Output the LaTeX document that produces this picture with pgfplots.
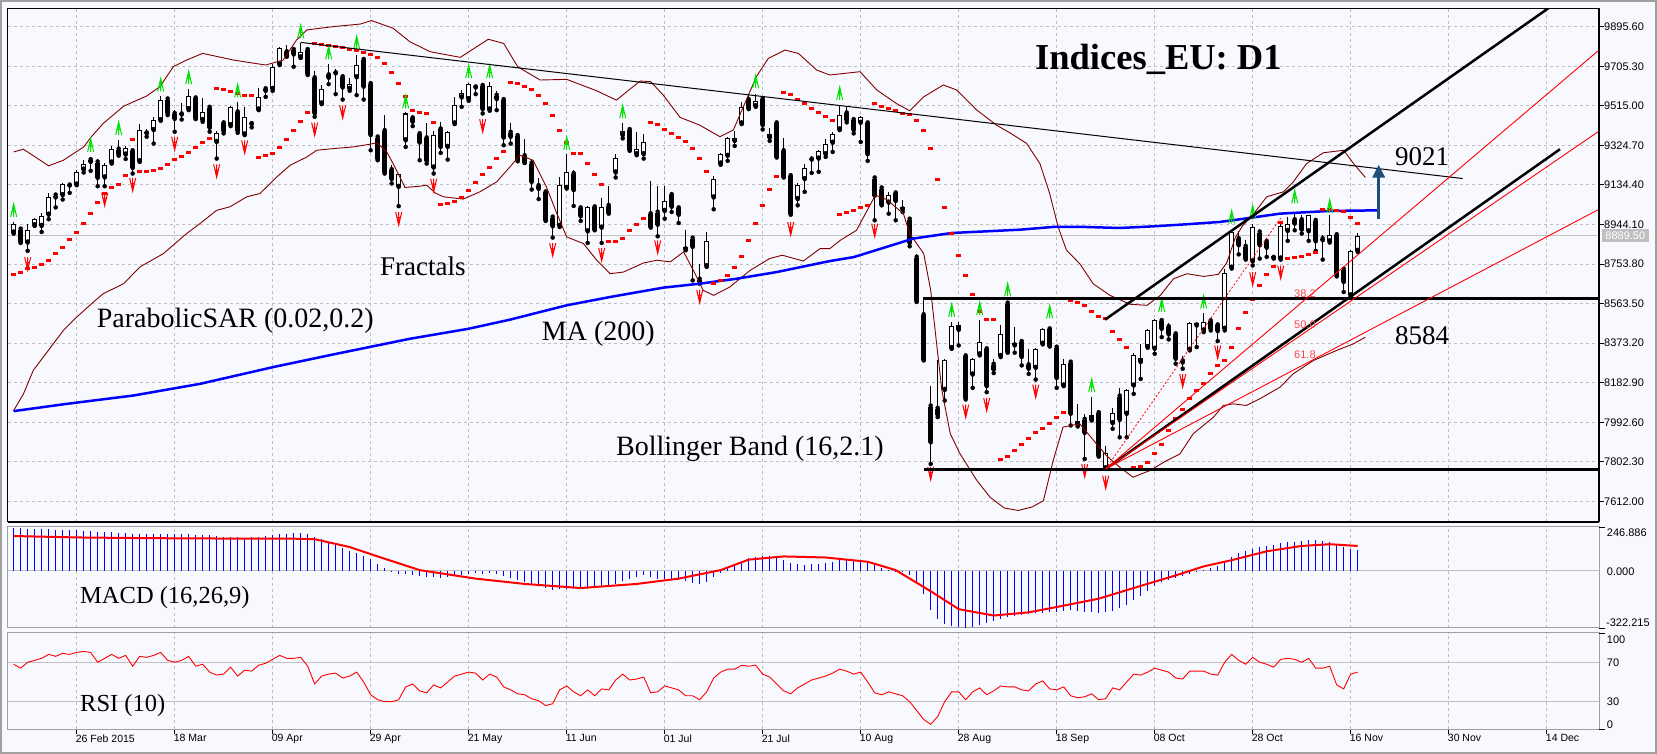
\documentclass[border=0pt]{standalone}
\usepackage{fontspec}
\setmainfont{Liberation Serif}
\newfontfamily\sansf{Liberation Sans}
\usepackage{pgfplots}
\usepackage{pgfplotstable}
\pgfplotsset{compat=1.18}
\usetikzlibrary{arrows.meta}
\definecolor{bg}{RGB}{248,249,254}
\definecolor{bbred}{RGB}{128,0,0}
\definecolor{mablue}{RGB}{0,0,255}
\definecolor{gridc}{RGB}{192,192,192}
\definecolor{framec}{RGB}{160,160,160}
\definecolor{fgreen}{RGB}{0,225,0}
\definecolor{arrowblue}{RGB}{31,78,121}
\definecolor{fibred}{RGB}{255,70,70}
\pgfdeclareplotmark{sar}{\pgfpathrectangle{\pgfqpoint{-2.5pt}{-1.5pt}}{\pgfqpoint{5pt}{3pt}}\pgfusepathqfill}
\pgfdeclareplotmark{fup}{%
 \pgfpathmoveto{\pgfqpoint{-3pt}{-6.5pt}}\pgfpathlineto{\pgfqpoint{0pt}{6.5pt}}\pgfpathlineto{\pgfqpoint{3pt}{-6.5pt}}%
 \pgfpathmoveto{\pgfqpoint{0pt}{6.5pt}}\pgfpathlineto{\pgfqpoint{0pt}{-6.5pt}}%
 \pgfpathmoveto{\pgfqpoint{-1.6pt}{-1pt}}\pgfpathlineto{\pgfqpoint{1.6pt}{-1pt}}%
 \pgfusepathqstroke}
\pgfdeclareplotmark{fdn}{%
 \pgfpathmoveto{\pgfqpoint{-3pt}{6.5pt}}\pgfpathlineto{\pgfqpoint{0pt}{-6.5pt}}\pgfpathlineto{\pgfqpoint{3pt}{6.5pt}}%
 \pgfpathmoveto{\pgfqpoint{0pt}{-6.5pt}}\pgfpathlineto{\pgfqpoint{0pt}{6.5pt}}%
 \pgfpathmoveto{\pgfqpoint{-1.6pt}{1pt}}\pgfpathlineto{\pgfqpoint{1.6pt}{1pt}}%
 \pgfusepathqstroke}

\pgfplotstableread{
i O H L C
-9 8905 8956 8900 8945
-8 8919 8924 8855 8860
-7 8857 8945 8817 8919
-6 8940 8977 8937 8969
-5 8937 9001 8908 8985
-4 8991 9093 8969 9074
-3 9083 9093 9026 9074
-2 9085 9144 9064 9138
-1 9131 9141 9096 9136
0 9136 9208 9133 9197
1 9208 9256 9194 9237
2 9253 9269 9202 9245
3 9242 9261 9128 9168
4 9170 9242 9128 9229
5 9242 9322 9237 9306
6 9304 9349 9275 9282
7 9280 9322 9259 9312
8 9296 9300 9189 9216
9 9248 9427 9245 9398
10 9382 9401 9366 9387
11 9398 9462 9333 9446
12 9446 9562 9443 9545
13 9545 9549 9470 9478
14 9475 9497 9390 9452
15 9473 9526 9449 9478
16 9499 9596 9494 9563
17 9550 9553 9451 9454
18 9446 9550 9438 9486
19 9505 9510 9390 9409
20 9341 9395 9261 9382
21 9430 9433 9382 9393
22 9422 9515 9417 9507
23 9483 9533 9385 9395
24 9377 9510 9374 9462
25 9427 9443 9411 9430
26 9497 9599 9494 9555
27 9594 9607 9558 9587
28 9596 9716 9587 9703
29 9714 9799 9711 9794
30 9772 9807 9751 9756
31 9783 9791 9703 9762
32 9748 9815 9745 9772
33 9783 9786 9663 9668
34 9647 9684 9462 9478
35 9526 9615 9523 9596
36 9661 9716 9619 9650
37 9671 9690 9571 9676
38 9652 9655 9545 9603
39 9596 9647 9587 9619
40 9652 9759 9566 9709
41 9735 9740 9545 9607
42 9619 9623 9301 9374
43 9362 9366 9253 9258
44 9393 9473 9189 9194
45 9205 9229 9141 9162
46 9125 9189 9032 9186
47 9349 9486 9317 9478
48 9454 9473 9417 9438
49 9378 9382 9253 9338
50 9358 9430 9237 9250
51 9218 9395 9189 9374
52 9401 9435 9288 9317
53 9317 9393 9256 9390
54 9430 9555 9427 9521
55 9555 9591 9510 9578
56 9547 9623 9539 9618
57 9603 9615 9571 9610
58 9610 9615 9478 9499
59 9497 9631 9491 9610
60 9563 9586 9494 9547
61 9542 9545 9325 9362
62 9385 9433 9333 9366
63 9369 9372 9248 9253
64 9272 9353 9240 9242
65 9237 9261 9112 9149
66 9128 9168 9066 9115
67 9098 9101 8961 8964
68 8977 8980 8881 8935
69 8937 9173 8932 9136
70 9120 9282 9117 9197
71 9186 9208 9033 9109
72 9021 9033 8961 8983
73 8911 9032 8855 9026
74 9026 9029 8916 8919
75 8929 9069 8855 9029
76 9033 9130 8996 9001
77 9194 9285 9170 9266
78 9374 9430 9358 9395
79 9398 9401 9298 9304
80 9282 9387 9277 9306
81 9282 9377 9261 9341
82 8993 9152 8929 8932
83 9001 9128 8887 8943
84 9009 9128 8972 9057
85 9085 9088 9004 9029
86 9021 9029 8951 8991
87 8824 8916 8820 8834
88 8876 8879 8675 8836
89 8678 8755 8659 8667
90 8743 8908 8740 8865
91 9074 9176 9017 9165
92 9237 9288 9231 9282
93 9274 9366 9250 9358
94 9346 9395 9322 9362
95 9430 9534 9427 9510
96 9542 9570 9499 9502
97 9513 9570 9510 9536
98 9547 9550 9401 9422
99 9362 9406 9346 9377
100 9430 9433 9266 9269
101 9296 9358 9170 9173
102 9176 9178 8991 8996
103 9066 9144 9036 9136
104 9162 9234 9101 9218
105 9256 9272 9192 9261
106 9261 9301 9197 9296
107 9282 9353 9269 9333
108 9337 9390 9293 9377
109 9401 9518 9398 9470
110 9478 9513 9435 9446
111 9446 9449 9382 9398
112 9433 9465 9341 9459
113 9430 9433 9250 9282
114 9165 9168 8964 9082
115 9117 9120 9036 9040
116 9049 9101 8996 9085
117 9093 9104 8964 9057
118 9016 9061 9004 9026
119 8967 8972 8839 8855
120 8784 8804 8571 8576
121 8507 8595 8290 8293
122 8068 8169 7792 7896
123 8057 8290 8017 8028
124 8148 8298 8097 8293
125 8349 8474 8346 8454
126 8437 8474 8362 8458
127 8309 8311 8102 8108
128 8222 8303 8158 8295
129 8319 8486 8314 8378
130 8343 8346 8137 8166
131 8269 8295 8229 8246
132 8311 8458 8306 8415
133 8563 8571 8327 8330
134 8362 8450 8327 8375
135 8378 8381 8266 8306
136 8266 8346 8225 8250
137 8254 8349 8198 8346
138 8370 8446 8367 8442
139 8439 8446 8357 8359
140 8351 8354 8158 8205
141 8169 8298 8166 8271
142 8279 8282 7977 8033
143 7981 8081 7972 7998
144 8004 8033 7816 7941
145 8004 8113 8001 8025
146 8036 8039 7827 7832
147 7771 7880 7768 7843
148 7988 8062 7961 8036
149 8116 8156 7920 8004
150 8033 8153 7920 8148
151 8169 8325 8129 8317
152 8282 8370 8201 8303
153 8354 8442 8351 8437
154 8346 8491 8322 8486
155 8479 8486 8402 8442
156 8450 8470 8391 8415
157 8415 8418 8274 8298
158 8285 8309 8250 8280
159 8341 8474 8338 8470
160 8458 8471 8354 8470
161 8434 8519 8426 8474
162 8478 8486 8434 8442
163 8458 8466 8383 8431
164 8442 8732 8434 8712
165 8736 8911 8732 8908
166 8873 8911 8800 8844
167 8836 8868 8775 8780
168 8767 8948 8747 8932
169 8905 8924 8780 8844
170 8860 8868 8788 8832
171 8783 8796 8780 8791
172 8780 8956 8775 8935
173 8913 8980 8865 8948
174 8964 8996 8916 8948
175 8964 8988 8900 8919
176 8911 8991 8865 8988
177 8961 8964 8817 8863
178 8873 8892 8775 8868
179 8863 8988 8857 8892
180 8892 8895 8694 8699
181 8726 8740 8619 8667
182 8603 8820 8598 8817
183 8817 8905 8812 8889.5
}\candles

\pgfplotstableread{
i s
-9 8702
-8 8715
-7 8731
-6 8735
-5 8751
-4 8772
-3 8804
-2 8834
-1 8871
0 8905
1 8948
2 8996
3 9049
4 9093
5 9122
6 9136
7 9181
8 9353
9 9197
10 9197
11 9202
12 9213
13 9232
14 9256
15 9269
16 9290
17 9316
18 9338
19 9358
20 9599
21 9591
22 9586
23 9575
24 9566
25 9563
26 9266
27 9276
28 9285
29 9314
30 9353
31 9395
32 9438
33 9483
34 9815
35 9812
36 9807
37 9799
38 9794
39 9786
40 9780
41 9772
42 9764
43 9748
44 9719
45 9676
46 9623
47 9558
48 9494
49 9483
50 9478
51 9435
52 9041
53 9045
54 9056
55 9074
56 9106
57 9146
58 9186
59 9218
60 9260
61 9293
62 9628
63 9623
64 9607
65 9594
66 9565
67 9526
68 9467
69 9396
70 9338
71 9285
72 9285
73 9237
74 9184
75 9136
76 8863
77 8863
78 8878
79 8916
80 8943
81 8972
82 9435
83 9425
84 9401
85 9382
86 9362
87 9343
88 9310
89 9261
90 9199
91 8659
92 8672
93 8698
94 8736
95 8788
96 8868
97 8948
98 9035
99 9112
100 9176
101 9579
102 9570
103 9547
104 9526
105 9502
106 9483
107 9462
108 9443
109 8991
110 9001
111 9009
112 9025
113 9037
114 9526
115 9513
116 9502
117 9491
118 9478
119 9472
120 9443
121 9396
122 9310
123 9160
124 9025
125 8900
126 8794
127 8698
128 8606
129 8526
130 8486
131 8486
132 7811
133 7827
134 7856
135 7885
136 7912
137 7941
138 7964
139 7988
140 8014
141 8038
142 8579
143 8568
144 8555
145 8526
146 8499
147 8491
148 8430
149 8389
150 8351
151 7773
152 7779
153 7800
154 7840
155 7883
156 7953
157 8012
158 8052
159 8105
160 8145
161 8181
162 8229
163 8266
164 8290
165 8351
166 8442
167 8519
168 8582
169 8648
170 8702
171 8744
172 8955
173 8780
174 8783
175 8791
176 8800
177 8807
178 9017
179 9017
180 9012
181 9004
182 8977
183 8948
}\sar

\pgfplotstableread{
i f
-9 9012
2 9325
6 9406
12 9615
16 9650
23 9587
32 9872
36 9770
40 9819
47 9534
56 9679
59 9679
70 9334
78 9486
97 9631
109 9574
125 8531
129 8539
133 8630
139 8523
145 8169
155 8555
161 8571
165 8980
168 9004
174 9077
179 9032
}\fup

\pgfplotstableread{
i f
-7 8755
4 9065
8 9136
14 9334
20 9202
24 9317
34 9403
38 9486
46 8972
51 9133
58 9419
68 8823
75 8800
83 8836
89 8598
102 8924
114 8916
122 7747
127 8046
130 8078
137 8142
144 7760
147 7704
158 8193
163 8330
168 8683
172 8715
}\fdn

\pgfplotstableread{
i m
-9 8046
-1.4 8081
8.1 8121
17.6 8177
28.1 8258
36.7 8319
47.6 8394
55.95 8442
61.9 8486
70 8555
76.2 8595
83.8 8640
89 8659
94.3 8683
100 8715
107.6 8768
111 8787
115.7 8836
119.5 8876
125 8903
130 8911
134.8 8919
139.5 8932
144 8932
149 8927
153.8 8935
158.6 8945
163.3 8956
166.2 8969
171.9 8996
179 9009
186 9012
}\ma

\pgfplotstableread{
i u
-9 9293
-7.6 9306
-4 9226
-1.9 9253
1 9317
2.1 9366
3.8 9430
6.7 9513
10 9562
11.9 9607
13.8 9703
15.7 9735
18 9767
22.4 9735
27 9711
29.5 9735
31.4 9831
32.9 9880
36.7 9896
40.5 9908
42.1 9925
45.2 9888
47.6 9823
50.5 9775
54.8 9748
58.8 9835
61 9815
63 9703
66.2 9639
70 9642
74.3 9587
77.1 9542
79 9594
80.5 9634
82 9631
83.8 9566
86.2 9459
89 9422
91.9 9366
93.8 9398
97.1 9655
98.8 9743
101.2 9783
103.1 9767
105.7 9687
107.6 9663
111.9 9679
114.3 9591
117.1 9526
119 9491
121 9558
123.8 9615
125.7 9591
128.6 9494
131.4 9422
133.3 9385
135.7 9334
137.6 9237
139 9093
140.2 8932
141.4 8820
143.3 8755
145.2 8659
147.6 8603
150.5 8560
152.9 8555
154.8 8603
156.7 8683
158.6 8707
161 8694
163.1 8704
164.3 8760
165.5 8880
166.6 8940
167.9 8985
170 9077
172.4 9101
173.8 9149
175.7 9237
178.1 9289
181 9301
182.4 9237
184.1 9170
}\bbup

\pgfplotstableread{
i l
-9.05 8046
-7.6 8129
-6.2 8242
-4.05 8338
-1.9 8434
0 8498
2.4 8571
3.8 8611
6.7 8659
9.05 8740
12.4 8804
15.7 8900
17.6 8948
20 9012
21.9 9029
24.3 9077
26.2 9093
28.6 9173
30.5 9229
32.9 9269
34.3 9301
36.7 9309
39.5 9317
41.9 9330
42.9 9337
44.3 9293
45.2 9237
46.9 9122
49 9128
50 9133
51.2 9096
52.4 9077
55.2 9066
57.6 9101
60 9149
61.9 9221
63.3 9277
65.2 9253
67.1 9125
68.6 8996
70 8884
72.4 8852
74.3 8772
76.2 8707
78.1 8715
81 8759
82.9 8772
84.8 8764
86.7 8812
88.1 8723
89.5 8627
91 8603
93.3 8643
96.2 8723
99 8780
100.8 8796
103.8 8768
106.2 8828
107.6 8828
109.1 8868
111.4 8916
114.1 9085
115.7 9064
118.1 8996
119 8900
121 8804
122 8627
122.9 8354
123.6 8145
124.8 7937
126.2 7840
128.6 7712
130.5 7631
132.5 7580
134.5 7568
136.5 7585
138.1 7615
139.5 7808
140.9 7969
143.3 7985
145.7 7888
147.1 7832
149 7776
150.9 7728
153.3 7760
155.7 7808
157.6 7840
159.5 7937
162.4 8017
163.8 8073
165.2 8081
167.1 8073
169 8105
171.9 8161
173.8 8226
176.7 8290
180 8338
182.4 8370
184.1 8402
}\bblo

\pgfplotstableread{
i h
-9 242
-8 240
-7 238
-6 236
-5 235
-4 233
-3 232
-2 230
-1 229
0 228
1 226
2 224
3 221
4 218
5 216
6 214
7 212
8 210
9 208
10 207
11 207
12 208
13 209
14 208
15 206
16 205
17 204
18 202
19 199
20 195
21 192
22 190
23 188
24 187
25 189
26 192
27 196
28 200
29 206
30 210
31 212
32 213
33 208
34 192
35 178
36 165
37 148
38 130
39 112
40 98
41 85
42 65
43 40
44 15
45 -5
46 -20
47 -20
48 -22
49 -28
50 -35
51 -36
52 -38
53 -36
54 -30
55 -24
56 -18
57 -14
58 -16
59 -14
60 -18
61 -30
62 -40
63 -52
64 -62
65 -75
66 -85
67 -98
68 -110
69 -105
70 -100
71 -100
72 -104
73 -100
74 -96
75 -92
76 -88
77 -76
78 -58
79 -45
80 -35
81 -25
82 -35
83 -45
84 -48
85 -48
86 -50
87 -58
88 -68
89 -75
90 -62
91 -35
92 -10
93 15
94 35
95 55
96 70
97 80
98 85
99 82
100 75
101 62
102 45
103 38
104 35
105 36
106 40
107 46
108 52
109 60
110 62
111 60
112 56
113 50
114 30
115 15
116 5
117 -2
118 -8
119 -25
120 -70
121 -130
122 -220
123 -270
124 -300
125 -310
126 -315
127 -322
128 -318
129 -305
130 -295
131 -285
132 -270
133 -262
134 -255
135 -248
136 -245
137 -240
138 -236
139 -232
140 -232
141 -225
142 -222
143 -225
144 -230
145 -232
146 -235
147 -232
148 -225
149 -212
150 -190
151 -165
152 -140
153 -112
154 -85
155 -65
156 -50
157 -40
158 -32
159 -20
160 -8
161 5
162 15
163 25
164 50
165 80
166 100
167 112
168 125
169 135
170 142
171 148
172 155
173 160
174 165
175 170
176 172
177 172
178 168
179 165
180 150
181 135
182 125
183 120
}\macd

\pgfplotstableread{
i s
-9 196
0 188
10 184
20 182
30 182
34 178
39 134
43 81
49 4
57 -44
64 -74
72 -97
80 -74
86 -44
92 4
96 63
101 81
107 75
113 51
117 4
122 -115
126 -216
131 -252
136 -234
140 -204
146 -157
152 -85
157 -26
161 25
165 60
170 110
175 140
179 150
183 140
}\sig

\pgfplotstableread{
i r
-9 68
-8 64
-7 70
-6 72
-5 74
-4 78
-3 76
-2 79
-1 78
0 80
1 81
2 80
3 70
4 74
5 78
6 74
7 77
8 66
9 76
10 75
11 77
12 80
13 72
14 70
15 72
16 76
17 66
18 68
19 60
20 57
21 58
22 65
23 56
24 62
25 61
26 67
27 69
28 73
29 77
30 74
31 74
32 75
33 66
34 48
35 56
36 58
37 59
38 54
39 56
40 60
41 50
42 37
43 32
44 30
45 30
46 32
47 45
48 48
49 41
50 39
51 47
52 44
53 50
54 56
55 58
56 60
57 59
58 52
59 58
60 55
61 45
62 42
63 38
64 37
65 33
66 31
67 26
68 28
69 42
70 46
71 40
72 36
73 42
74 36
75 43
76 42
77 52
78 58
79 52
80 53
81 55
82 39
83 40
84 46
85 44
86 42
87 36
88 36
89 32
90 40
91 54
92 60
93 63
94 63
95 67
96 66
97 67
98 58
99 55
100 48
101 41
102 38
103 44
104 48
105 52
106 54
107 56
108 59
109 63
110 61
111 58
112 60
113 50
114 39
115 37
116 40
117 38
118 36
119 30
120 21
121 12
122 7
123 15
124 30
125 40
126 40
127 32
128 40
129 44
130 37
131 41
132 46
133 45
134 45
135 42
136 41
137 48
138 51
139 43
140 42
141 45
142 36
143 34
144 35
145 38
146 32
147 33
148 44
149 42
150 50
151 58
152 57
153 60
154 64
155 62
156 60
157 54
158 53
159 61
160 61
161 61
162 58
163 57
164 70
165 78
166 72
167 68
168 75
169 70
170 68
171 65
172 73
173 74
174 73
175 70
176 74
177 64
178 64
179 66
180 47
181 43
182 58
183 60
}\rsi

\pgfplotsset{
 chartpanel/.style={
  scale only axis, width=1591pt,
  xmin=-9.81, xmax=217.47,
  xtick={0,14,...,210},
  xticklabels={},
  xtick style={draw=none},
  axis background/.style={fill=bg},
  clip mode=individual,
  xmajorgrids,
  major grid style={gridc, dash pattern=on 3pt off 3pt, line width=0.8pt},
 }
}

\begin{document}
\begin{tikzpicture}
\fill[bg] (0,0) rectangle (1657pt,754pt);

% ---------- main price panel ----------
\begin{axis}[chartpanel, at={(8pt,232.3pt)}, anchor=south west, height=513.4pt,
  ymin=7514, ymax=9984,
  ytick={7612,7802.3,7992.6,8182.9,8373.2,8563.5,8753.8,8944.1,9134.4,9324.7,9515,9705.3,9895.6},
  yticklabels={7612.00,7802.30,7992.60,8182.90,8373.20,8563.50,8753.80,8944.10,9134.40,9324.70,9515.00,9705.30,9895.60},
  ymajorgrids,
  yticklabel pos=right, ytick pos=right,
  ytick style={draw=black, line width=0.8pt},
  tick align=outside, major tick length=5pt,
  yticklabel style={font=\sansf\fontsize{11}{13}\selectfont, anchor=west, inner sep=0pt},
  axis line style={black, line width=1pt}]
 \addplot[gridc, line width=1pt, forget plot] coordinates {(-9.81,8889.5) (217.47,8889.5)};
 % wicks
 \addplot[only marks, mark=none, forget plot, error bars/.cd, y dir=plus, y explicit, error mark=none,
   error bar style={draw=black, line width=1pt}]
   table[x=i, y=L, y error expr=\thisrow{H}-\thisrow{L}] {\candles};
 % bodies (outer black)
 \addplot[only marks, mark=none, forget plot, error bars/.cd, y dir=plus, y explicit, error mark=none,
   error bar style={draw=black, line width=5pt}]
   table[x=i, y expr={min(\thisrow{O},\thisrow{C})}, y error expr={max(abs(\thisrow{C}-\thisrow{O}),4.5)}] {\candles};
 % bodies (white inside for rising candles)
 \addplot[only marks, mark=none, forget plot, error bars/.cd, y dir=plus, y explicit, error mark=none,
   error bar style={draw=white, line width=3pt}]
   table[x=i, y expr={\thisrow{O}+5}, y error expr={max(\thisrow{C}-\thisrow{O}-10,0)}] {\candles};
 % Bollinger bands
 \addplot[bbred, line width=0.9pt, forget plot] table[x=i, y=u] {\bbup};
 \addplot[bbred, line width=0.9pt, forget plot] table[x=i, y=l] {\bblo};
 % MA 200
 \addplot[mablue, line width=2.5pt, forget plot] table[x=i, y=m] {\ma};
 % Parabolic SAR
 \addplot[only marks, mark=sar, color=red, forget plot] table[x=i, y=s] {\sar};
 % Fractals
 \addplot[only marks, mark=fup, mark options={draw=fgreen, line width=1pt}, forget plot] table[x=i, y=f] {\fup};
 \addplot[only marks, mark=fdn, mark options={draw=red, line width=1pt}, forget plot] table[x=i, y=f] {\fdn};
 % trend objects
 \addplot[black, line width=1pt, forget plot] coordinates {(32,9820) (198,9165)};
 \addplot[black, line width=2.5pt, forget plot] coordinates {(121,8588) (217.47,8588)};
 \addplot[black, line width=2.5pt, forget plot] coordinates {(121,7765) (217.47,7765)};
 \addplot[black, line width=2.5pt, forget plot] coordinates {(146.9,8486) (212,10026)};
 \addplot[black, line width=2.5pt, forget plot] coordinates {(147,7768) (211.9,9306)};
 \addplot[red, line width=0.9pt, forget plot] coordinates {(147,7768) (217.47,9783)};
 \addplot[red, line width=0.9pt, forget plot] coordinates {(147,7768) (217.47,9393)};
 \addplot[red, line width=0.9pt, forget plot] coordinates {(147,7768) (217.47,9017)};
 \addplot[red, line width=0.8pt, dash pattern=on 2pt off 2pt, forget plot] coordinates {(147,7768) (172,8975)};
 \draw[arrowblue, line width=3.5pt, -{Triangle[length=13pt,width=12pt]}] (axis cs:186,8970) -- (axis cs:186,9232);
 \draw[black, line width=2pt] (rel axis cs:1,0) -- (rel axis cs:1,1);
 \draw[black, line width=2pt] (rel axis cs:0,0) -- (rel axis cs:1,0);
\end{axis}

% ---------- MACD panel ----------
\begin{axis}[chartpanel, at={(8pt,126pt)}, anchor=south west, height=101pt,
  ymin=-322.215, ymax=246.886, ytick=\empty,
  axis line style={framec, line width=1pt}]
 \addplot[gridc, line width=1pt, forget plot] coordinates {(-9.81,0) (217.47,0)};
 \addplot[ycomb, mablue, line width=1pt, mark=none, forget plot] table[x=i, y=h] {\macd};
 \addplot[red, line width=2pt, forget plot] table[x=i, y=s] {\sig};
\end{axis}

% ---------- RSI panel ----------
\begin{axis}[chartpanel, at={(8pt,24.7pt)}, anchor=south west, height=96.3pt,
  ymin=2, ymax=99.7, ytick=\empty,
  xticklabels={26 Feb 2015,18 Mar,09 Apr,29 Apr,21 May,11 Jun,01 Jul,21 Jul,10 Aug,28 Aug,18 Sep,08 Oct,28 Oct,16 Nov,30 Nov,14 Dec},
  xtick pos=bottom, xtick style={draw=black, line width=0.8pt},
  tick align=outside, major tick length=5pt,
  xticklabel style={font=\sansf\fontsize{10.5}{12}\selectfont, anchor=north west, inner sep=0pt, xshift=-1pt},
  axis line style={framec, line width=1pt}]
 \addplot[gridc, line width=1pt, forget plot] coordinates {(-9.81,70) (217.47,70)};
 \addplot[gridc, line width=1pt, forget plot] coordinates {(-9.81,30) (217.47,30)};
 \addplot[red, line width=0.9pt, forget plot] table[x=i, y=r] {\rsi};
\end{axis}

% ---------- texts ----------
\node[anchor=base west, inner sep=0pt, font=\bfseries\fontsize{36.5}{40}\selectfont] at (1035pt,684pt) {Indices\_EU: D1};
\node[anchor=base west, inner sep=0pt, font=\fontsize{27}{30}\selectfont] at (380pt,478.7pt) {Fractals};
\node[anchor=base west, inner sep=0pt, font=\fontsize{28}{30}\selectfont] at (96.7pt,426.7pt) {ParabolicSAR (0.02,0.2)};
\node[anchor=base west, inner sep=0pt, font=\fontsize{28}{30}\selectfont] at (541.7pt,413.3pt) {MA (200)};
\node[anchor=base west, inner sep=0pt, font=\fontsize{28}{30}\selectfont] at (616pt,298pt) {Bollinger Band (16,2.1)};
\node[anchor=base west, inner sep=0pt, font=\fontsize{27}{30}\selectfont] at (1395pt,588pt) {9021};
\node[anchor=base west, inner sep=0pt, font=\fontsize{27}{30}\selectfont] at (1395pt,409pt) {8584};
\node[anchor=base west, inner sep=0pt, text=fibred, font=\sansf\fontsize{11}{12}\selectfont] at (1294pt,456.3pt) {38.2};
\node[anchor=base west, inner sep=0pt, text=fibred, font=\sansf\fontsize{11}{12}\selectfont] at (1294pt,425.7pt) {50.0};
\node[anchor=base west, inner sep=0pt, text=fibred, font=\sansf\fontsize{11}{12}\selectfont] at (1294pt,395pt) {61.8};
\node[anchor=base west, inner sep=0pt, font=\fontsize{24.5}{28}\selectfont] at (80pt,150pt) {MACD (16,26,9)};
\node[anchor=base west, inner sep=0pt, font=\fontsize{24.5}{28}\selectfont] at (80pt,42pt) {RSI (10)};
% right scale of the lower panels
\begin{scope}[every node/.style={anchor=west, inner sep=0pt, font=\sansf\fontsize{11}{13}\selectfont}]
 \node at (1606.7pt,221pt) {246.886};
 \node at (1606.7pt,182.7pt) {0.000};
 \node at (1606pt,131.7pt) {-322.215};
 \node at (1606.7pt,114.7pt) {100};
 \node at (1606.7pt,91.7pt) {70};
 \node at (1606.7pt,52.3pt) {30};
 \node at (1606.7pt,29.7pt) {0};
\end{scope}
\draw[black, line width=0.8pt] (1599pt,227pt) -- (1605pt,227pt) (1599pt,126pt) -- (1605pt,126pt)
  (1599pt,121pt) -- (1605pt,121pt) (1599pt,24.7pt) -- (1605pt,24.7pt);
\node[anchor=west, fill=gridc, text=white, inner xsep=3.5pt, inner ysep=0pt, minimum height=13pt,
  font=\sansf\fontsize{11}{13}\selectfont] at (1601.7pt,518.2pt) {8889.50};
\draw[framec, line width=2pt] (1pt,1pt) rectangle (1656pt,753pt);
\pgfresetboundingbox
\useasboundingbox (0,0) rectangle (1657pt,754pt);
\end{tikzpicture}
\end{document}
